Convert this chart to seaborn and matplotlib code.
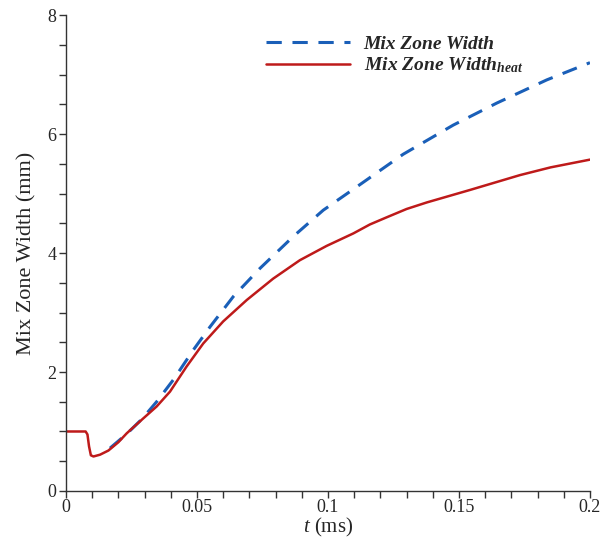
import numpy as np
import pandas as pd
import matplotlib
matplotlib.use("Agg")
import matplotlib.pyplot as plt
from matplotlib.ticker import MultipleLocator, FuncFormatter
import seaborn as sns

#Data (t in ms, width in mm)
t_mix = [0.0168, 0.0232, 0.0290, 0.0346, 0.0410, 0.0486, 0.0550, 0.0639, 0.0740,
         0.0868, 0.0982, 0.1122, 0.1287, 0.1478, 0.1644, 0.1835, 0.2000]
w_mix = [0.72, 0.96, 1.21, 1.50, 1.87, 2.37, 2.76, 3.27, 3.74,
         4.28, 4.72, 5.15, 5.66, 6.15, 6.52, 6.91, 7.20]

t_heat = [0.0, 0.0075, 0.0082, 0.0088, 0.0095, 0.0105, 0.0130, 0.0162, 0.0200, 0.0232,
          0.0295, 0.0346, 0.0397, 0.0460, 0.0524, 0.0600, 0.0690, 0.0791, 0.0893,
          0.0995, 0.1097, 0.1160, 0.1224, 0.1300, 0.1377, 0.1542, 0.1733, 0.1850, 0.2000]
w_heat = [1.00, 1.00, 0.95, 0.75, 0.60, 0.58, 0.61, 0.68, 0.82, 0.97,
          1.22, 1.42, 1.67, 2.09, 2.48, 2.85, 3.21, 3.57, 3.88,
          4.12, 4.33, 4.48, 4.60, 4.74, 4.85, 5.06, 5.31, 5.44, 5.57]

label_mix = "Mix Zone Width"
label_heat = r"Mix Zone Width$_{\mathbfit{heat}}$"

DFmix = pd.DataFrame({"t": t_mix, "w": w_mix})
DFheat = pd.DataFrame({"t": t_heat, "w": w_heat})

sns.set_style("ticks")
plt.rcParams["font.family"] = ["Liberation Serif", "DejaVu Serif"]
plt.rcParams["mathtext.fontset"] = "custom"
plt.rcParams["mathtext.rm"] = "Liberation Serif"
plt.rcParams["mathtext.it"] = "Liberation Serif:italic"
plt.rcParams["mathtext.bf"] = "Liberation Serif:bold"
plt.rcParams["mathtext.bfit"] = "Liberation Serif:italic:bold"

fig = plt.figure(figsize=(6.02, 5.38), dpi=100)
ax = fig.add_axes([0.1096, 0.0874, 0.8704, 0.8846])

sns.lineplot(data=DFmix, x="t", y="w", ax=ax, color="#1a5fb8", lw=2.2,
             label=label_mix, estimator=None, sort=False)
sns.lineplot(data=DFheat, x="t", y="w", ax=ax, color="#be1a1a", lw=1.8,
             label=label_heat, estimator=None, sort=False)
ax.lines[0].set_dashes([5, 3.5])

ax.set_xlim(0, 0.2)
ax.set_ylim(0, 8)
ax.xaxis.set_major_locator(MultipleLocator(0.05))
ax.xaxis.set_minor_locator(MultipleLocator(0.01))
ax.yaxis.set_major_locator(MultipleLocator(2))
ax.yaxis.set_minor_locator(MultipleLocator(0.5))
ax.xaxis.set_major_formatter(FuncFormatter(lambda v, p: "%g" % round(v, 3)))
ax.tick_params(which="both", direction="out", length=5, width=1, color="#333333",
               labelsize=13, pad=2)
ax.tick_params(axis="x", pad=1)
sns.despine(ax=ax)
for s in ["left", "bottom"]:
    ax.spines[s].set_color("#333333")
    ax.spines[s].set_linewidth(1)

ax.set_xlabel("$t$ (ms)", fontsize=15, labelpad=0)
ax.set_ylabel("Mix Zone Width (mm)", fontsize=16, labelpad=8)

leg = ax.legend(loc="upper left", bbox_to_anchor=(0.349, 0.995), frameon=False,
                handlelength=4.3, handletextpad=0.7, labelspacing=0.15,
                prop={"family": "Liberation Serif", "style": "italic",
                      "weight": "bold", "size": 14})

fig.savefig("out.png", dpi=100)
